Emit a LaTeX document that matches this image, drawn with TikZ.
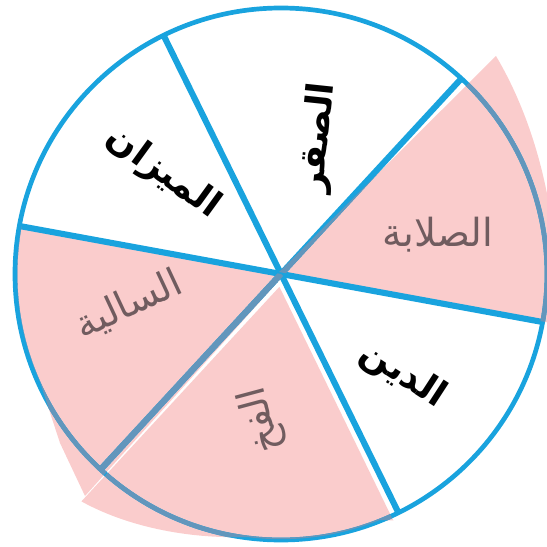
\documentclass[tikz,border=0pt]{standalone}
\usepackage{fontspec}
\newfontfamily\arabicfont[Script=Arabic]{DejaVu Sans}
\TeXXeTstate=1
\definecolor{spokeblue}{RGB}{25,163,222}
\definecolor{shadeblue}{RGB}{98,150,188}
\definecolor{sectorpink}{RGB}{250,204,204}
\definecolor{pinktext}{RGB}{112,92,95}

\begin{document}
\begin{tikzpicture}[x=0.03cm,y=0.03cm,
    spoke/.style={draw=spokeblue,line width=5.2pt},
    rim/.style={draw=spokeblue,line width=4pt},
    lbl/.style={font=\arabicfont\bfseries\fontsize{31}{38}\selectfont,inner sep=0pt},
    lblpink/.style={font=\arabicfont\fontsize{33}{38}\selectfont,inner sep=0pt,text=pinktext}]
  \useasboundingbox (-281,-272) rectangle (266,274);
  \coordinate (c) at (0,0);
  \coordinate (l1a) at (116.2:266);
  \coordinate (l1b) at (296.2:266);
  \coordinate (l2a) at (169.6:266);
  \coordinate (l2b) at (349.6:266);
  \coordinate (l3a) at (47.3:266);
  \coordinate (l3b) at (227.3:266);
  \def\pinkA{(-2,2) -- (215,218) .. controls (247,164) and (269,94) .. (275,14) -- (275,-50) -- cycle}
  \def\pinkB{(0,0) -- (169.6:264) arc[start angle=169.6,end angle=204,radius=264] -- (-221,-169) -- (-196,-222) -- (2.2,-2) -- cycle}
  \def\pinkC{(-1.6,-12.8) -- (-199.6,-227.4) .. controls (-155,-252) and (-95,-265) .. (-34,-263)
    arc[start angle=262.6,end angle=292,radius=264] -- (112.3,-246.5) -- cycle}
  \fill[sectorpink] \pinkA;
  \fill[sectorpink] \pinkB;
  \fill[sectorpink] \pinkC;
  \draw[rim] (c) circle[radius=266];
  \draw[spoke] (l1a) -- (l1b);
  \draw[spoke] (l2a) -- (l2b);
  \draw[spoke] (l3a) -- (l3b);
  \foreach \p in {\pinkA,\pinkB,\pinkC}{
    \begin{scope}
      \clip \p;
      \draw[rim,draw=shadeblue] (c) circle[radius=266];
      \draw[spoke,draw=shadeblue] (l3a) -- (l3b);
    \end{scope}
  }
  \node[lbl,rotate=84] (saqr) at (38,136) {\beginR الصقر\endR};
  \node[lblpink] (salaba) at (157,39) {\beginR الصلابة\endR};
  \node[lbl,rotate=-33] (din) at (122,-101) {\beginR الدين\endR};
  \node[lblpink,rotate=105] (fakh) at (-19,-146) {\beginR الفخ\endR};
  \node[lblpink,rotate=25] (saliya) at (-152,-31) {\beginR السالية\endR};
  \node[lbl,rotate=-36] (mizan) at (-118,101) {\beginR الميزان\endR};
\end{tikzpicture}
\end{document}
